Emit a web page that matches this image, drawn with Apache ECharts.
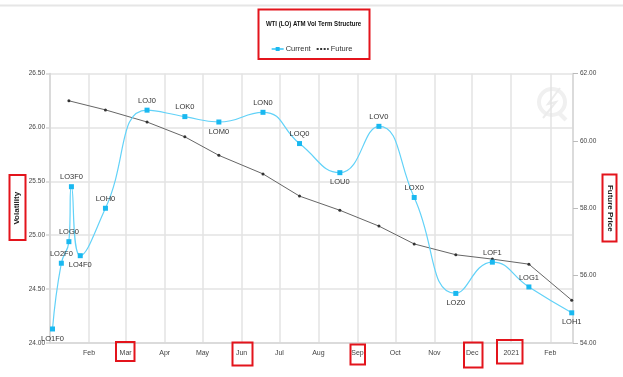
<!DOCTYPE html>
<html>
<head>
<meta charset="utf-8">
<script src="https://cdn.jsdelivr.net/npm/echarts@6/dist/echarts.min.js"></script>
<style>
  html, body { margin: 0; padding: 0; background: #fff; }
  #chart { width: 623px; height: 377px; }
</style>
</head>
<body>
<div id="chart"></div>
<script>
// contracts (current vol curve)
var volNames = ['LO1F0', 'LO2F0', 'LOG0', 'LO3F0', 'LO4F0', 'LOH0', 'LOJ0', 'LOK0', 'LOM0',
  'LON0', 'LOQ0', 'LOU0', 'LOV0', 'LOX0', 'LOZ0', 'LOF1', 'LOG1', 'LOH1'];
var volDates = ['2020-01-03', '2020-01-10', '2020-01-16', '2020-01-18', '2020-01-25', '2020-02-14',
  '2020-03-18', '2020-04-17', '2020-05-14', '2020-06-18', '2020-07-17', '2020-08-18', '2020-09-18',
  '2020-10-16', '2020-11-18', '2020-12-17', '2021-01-15', '2021-02-18'];
var volValues = [24.13, 24.74, 24.94, 25.45, 24.81, 25.25, 26.16, 26.10, 26.05,
  26.14, 25.85, 25.58, 26.01, 25.35, 24.46, 24.75, 24.52, 24.28];

// futures curve
var futDates = ['2020-01-16', '2020-02-14', '2020-03-18', '2020-04-17', '2020-05-14', '2020-06-18',
  '2020-07-17', '2020-08-18', '2020-09-18', '2020-10-16', '2020-11-18', '2020-12-17',
  '2021-01-15', '2021-02-18'];
var futValues = [61.19, 60.92, 60.56, 60.12, 59.57, 59.02, 58.36, 57.94, 57.47, 56.94,
  56.62, 56.49, 56.34, 55.27];

var monthNames = ['Jan', 'Feb', 'Mar', 'Apr', 'May', 'Jun', 'Jul', 'Aug', 'Sep', 'Oct', 'Nov', 'Dec'];
// labels drawn under the point
var labelBelow = ['LO1F0', 'LO4F0', 'LOM0', 'LOU0', 'LOZ0', 'LOH1'];

var chartTitle = 'WTI (LO) ATM Vol Term Structure';
var font = "'Liberation Sans', Arial, sans-serif";
var DAY = 86400000;

function toTime(s) {
  var p = s.split('-');
  return new Date(+p[0], +p[1] - 1, +p[2]).getTime();
}

var volData = volNames.map(function (n, i) {
  return {
    name: n,
    value: [toTime(volDates[i]), volValues[i]],
    label: { position: labelBelow.indexOf(n) >= 0 ? 'bottom' : 'top' }
  };
});
var futData = futDates.map(function (d, i) {
  return [toTime(d), futValues[i]];
});

function redBox(x, y, w, h) {
  return {
    type: 'rect', z: 100,
    shape: { x: x, y: y, width: w, height: h },
    style: { fill: 'none', stroke: '#e3141c', lineWidth: 2 }
  };
}

var chart = echarts.init(document.getElementById('chart'), null, { renderer: 'canvas' });

var option = {
  backgroundColor: '#ffffff',
  animation: false,
  legend: {
    top: 40,
    left: 'center',
    itemWidth: 12,
    itemHeight: 5,
    itemGap: 5,
    textStyle: { fontSize: 7.5, color: '#333', fontFamily: font, padding: [0, 0, 0, -3] },
    data: [
      { name: 'Current' },
      { name: 'Future', lineStyle: { type: [2, 1.5], width: 2, color: '#333' }, itemStyle: { opacity: 0 } }
    ]
  },
  grid: { left: 50, right: 50, top: 73.5, bottom: 34 },
  xAxis: {
    type: 'time',
    min: toTime('2020-01-01'),
    max: toTime('2021-02-19'),
    minInterval: 28 * DAY,
    maxInterval: 31 * DAY,
    axisLine: { show: true, lineStyle: { color: '#d6d6d6', width: 1.5 } },
    axisTick: { show: false },
    splitLine: { show: true, lineStyle: { color: '#e3e3e3', width: 1.5 } },
    axisLabel: {
      fontSize: 7,
      color: '#444',
      fontFamily: font,
      margin: 7,
      showMinLabel: false,
      formatter: function (val) {
        var d = new Date(val);
        if (d.getMonth() === 0) {
          return d.getFullYear() === 2020 ? '' : String(d.getFullYear());
        }
        return monthNames[d.getMonth()];
      }
    }
  },
  yAxis: [
    {
      type: 'value',
      min: 24,
      max: 26.5,
      interval: 0.5,
      name: 'Volatility',
      nameLocation: 'middle',
      nameRotate: 90,
      nameGap: 29,
      nameMoveOverlap: false,
      nameTextStyle: { fontSize: 8, fontWeight: 'bold', color: '#222', fontFamily: font },
      axisLine: { show: true, lineStyle: { color: '#d6d6d6', width: 1.5 } },
      axisTick: { show: true, length: 4, lineStyle: { color: '#d6d6d6', width: 1.5 } },
      splitLine: { show: true, lineStyle: { color: '#e3e3e3', width: 1.5 } },
      axisLabel: {
        fontSize: 6.5, color: '#444', fontFamily: font, margin: 5,
        formatter: function (v) { return v.toFixed(2); }
      }
    },
    {
      type: 'value',
      min: 54,
      max: 62,
      interval: 2,
      name: 'Future Price',
      nameLocation: 'middle',
      nameRotate: -90,
      nameGap: 33,
      nameMoveOverlap: false,
      nameTextStyle: { fontSize: 8, fontWeight: 'bold', color: '#222', fontFamily: font },
      axisLine: { show: true, lineStyle: { color: '#d6d6d6', width: 1.5 } },
      axisTick: { show: true, length: 5, lineStyle: { color: '#bbb', width: 1 } },
      splitLine: { show: false },
      axisLabel: {
        fontSize: 6.5, color: '#444', fontFamily: font, margin: 7,
        formatter: function (v) { return v.toFixed(2); }
      }
    }
  ],
  graphic: [
    // top divider of the screenshot
    { type: 'line', shape: { x1: 0, y1: 5.5, x2: 623, y2: 5.5 }, style: { stroke: '#e6e6e6', lineWidth: 2 } },
    // title, narrow like the original
    {
      type: 'text', x: 313.5, y: 24, scaleX: 0.76,
      style: { text: chartTitle, fill: '#111', font: "bold 8px 'Liberation Sans', Arial, sans-serif", align: 'center', verticalAlign: 'middle' }
    },
    // faint watermark logo
    { type: 'circle', shape: { cx: 552, cy: 102, r: 13 }, style: { fill: 'none', stroke: '#f0f0f0', lineWidth: 4 }, z: 0 },
    { type: 'polyline', shape: { points: [[560, 88], [548, 104], [556, 102], [543, 118]] }, style: { fill: 'none', stroke: '#ececec', lineWidth: 2 }, z: 0 },
    { type: 'line', shape: { x1: 558, y1: 112, x2: 566, y2: 120 }, style: { stroke: '#f0f0f0', lineWidth: 4 }, z: 0 },
    // annotation boxes
    redBox(258.5, 9.5, 111, 49.5),
    redBox(9.5, 175, 16, 65),
    redBox(602.5, 174.5, 14, 67),
    redBox(116, 342, 18.5, 19),
    redBox(232.5, 342.5, 20, 23),
    redBox(350.5, 344.5, 14.5, 20),
    redBox(464, 342.5, 18.5, 25),
    redBox(497, 340, 25.5, 23.5)
  ],
  series: [
    {
      name: 'Current',
      type: 'line',
      yAxisIndex: 0,
      smooth: 0.5,
      symbol: 'rect',
      symbolSize: 5,
      color: '#19b8f0',
      lineStyle: { color: '#62d2f8', width: 1.2 },
      itemStyle: { color: '#19b8f0' },
      label: {
        show: true,
        formatter: '{b}',
        fontSize: 7.5,
        color: '#333',
        fontFamily: font,
        distance: 3
      },
      data: volData,
      z: 3
    },
    {
      name: 'Future',
      type: 'line',
      yAxisIndex: 1,
      symbol: 'circle',
      symbolSize: 3,
      color: '#444',
      lineStyle: { color: '#666', width: 1 },
      itemStyle: { color: '#333' },
      data: futData,
      z: 2
    }
  ]
};

chart.setOption(option);
</script>
</body>
</html>
